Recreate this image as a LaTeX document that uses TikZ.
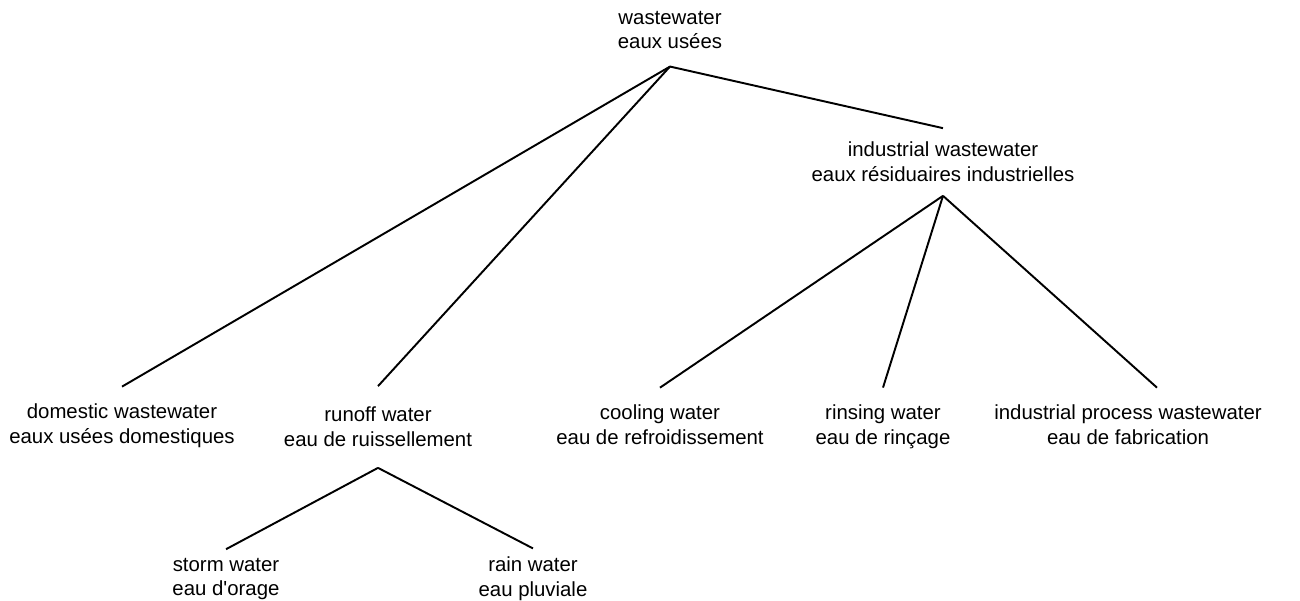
\documentclass[tikz,border=0pt]{standalone}
\usepackage{fontspec}
\setmainfont{Liberation Sans}

\begin{document}
\begin{tikzpicture}[x=0.02cm, y=-0.02cm,
    term/.style={align=center, inner sep=0pt, outer sep=10pt,
                 font=\fontsize{11.6}{14}\selectfont},
    branch/.style={line width=1.1pt}]
    \useasboundingbox (0,0) rectangle (1300,601);

    % les termes, de haut en bas
    \node[term]                (root)  at (670,30)  {wastewater\\eaux usées};
    \node[term, outer sep=8pt] (ind)   at (943,162) {industrial wastewater\\eaux résiduaires industrielles};

    \node[term]                (dom)   at (122,426) {domestic wastewater\\eaux usées domestiques};
    \node[term, outer sep=12pt] (runoff) at (378,427) {runoff water\\eau de ruissellement};
    \node[term]                (cool)  at (660,425) {cooling water\\eau de refroidissement};
    \node[term]                (rinse) at (883,427) {rinsing water\\eau de rinçage};
    \node[term]                (proc)  at (1128,425) {industrial process wastewater\\eau de fabrication};

    \node[term, outer sep=5pt] (storm) at (226,579) {storm water\\eau d\textquotesingle orage};
    \node[term, outer sep=5pt] (rain)  at (533,579) {rain water\\eau pluviale};

    \draw[branch] (root.south) -- (dom.north);
    \draw[branch] (root.south) -- (runoff.north);
    \draw[branch] (root.south) -- (ind.north);

    \draw[branch] (ind.south) -- (cool.north);
    \draw[branch] (ind.south) -- (rinse.north);
    \draw[branch] (ind.south) -- ([xshift=0.58cm]proc.north);

    \draw[branch] (runoff.south) -- (storm.north);
    \draw[branch] (runoff.south) -- (rain.north);
\end{tikzpicture}
\end{document}
